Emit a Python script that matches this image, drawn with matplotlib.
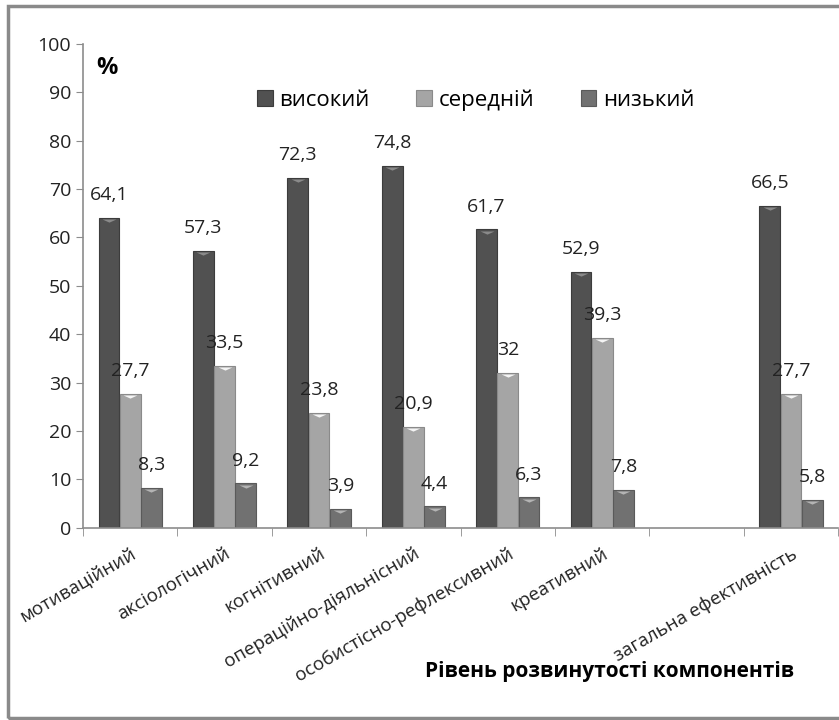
import numpy as np
import matplotlib
matplotlib.use("Agg")
import matplotlib.pyplot as plt
from matplotlib.patches import Rectangle

plt.rcParams["font.family"] = ["Open Sans", "DejaVu Sans"]

CATEGORIES = ["мотиваційний", "аксіологічний", "когнітивний",
              "операційно-діяльнісний", "особистісно-рефлексивний",
              "креативний", "", "загальна ефективність"]
HIGH = [64.1, 57.3, 72.3, 74.8, 61.7, 52.9, np.nan, 66.5]
MID = [27.7, 33.5, 23.8, 20.9, 32, 39.3, np.nan, 27.7]
LOW = [8.3, 9.2, 3.9, 4.4, 6.3, 7.8, np.nan, 5.8]
SERIES = ["високий", "середній", "низький"]

COLORS = ["#515151", "#a5a5a5", "#717171"]
EDGES = ["#3c3c3c", "#8a8a8a", "#5a5a5a"]
TIPS = ["#8a8a8a", "#f4f4f4", "#b4b4b4"]
TIP = [(-1, 0), (1, 0), (0, -0.45)]


def fmt(v):
    s = f"{v:.1f}".replace(".", ",")
    return s[:-2] if s.endswith(",0") else s


fig = plt.figure(figsize=(8.39, 7.2), dpi=100)
ax = fig.add_axes([0.099, 0.267, 0.90, 0.672])

x = np.arange(len(CATEGORIES))
width = 0.225
for i, (vals, name) in enumerate(zip([HIGH, MID, LOW], SERIES)):
    offset = (i - 1) * width
    vals = np.array(vals, dtype=float)
    ax.bar(x + offset, vals, width * 0.98, color=COLORS[i], edgecolor=EDGES[i],
           linewidth=0.8, label=name)
    ok = ~np.isnan(vals)
    ax.plot(x[ok] + offset, vals[ok] - 0.3, marker=TIP, linestyle="none",
            color=TIPS[i], markersize=10, markeredgewidth=0, zorder=3)
    for xi, v in zip(x[ok], vals[ok]):
        ax.text(xi + offset, v + 2.8, fmt(v), ha="center", va="bottom",
                fontsize=14, color="#222222")

ax.set_xlim(-0.5, len(CATEGORIES) - 0.5)
ax.set_ylim(0, 100)
ax.set_yticks(range(0, 101, 10))
ax.tick_params(axis="y", labelsize=14, colors="#222222", length=5,
               color="#8c8c8c")
ax.set_xticks(x)
ax.set_xticklabels(CATEGORIES, rotation=30, ha="right", rotation_mode="anchor",
                   fontsize=13.5, color="#222222")
ax.tick_params(axis="x", length=0, pad=12)
ax.set_xticks(np.arange(-0.5, len(CATEGORIES), 1), minor=True)
ax.tick_params(axis="x", which="minor", length=6, color="#8c8c8c")

for side in ["top", "right"]:
    ax.spines[side].set_visible(False)
for side in ["left", "bottom"]:
    ax.spines[side].set_color("#8c8c8c")
    ax.spines[side].set_linewidth(1.2)

ax.text(0.018, 0.975, "%", transform=ax.transAxes, fontsize=17,
        fontweight="bold", ha="left", va="top")

ax.legend(loc="center", bbox_to_anchor=(0.52, 0.884), ncol=3,
          frameon=False, fontsize=16, handlelength=0.7, handleheight=0.7,
          handletextpad=0.3, columnspacing=2.1)

fig.text(0.726, 0.067, "Рівень розвинутості компонентів", fontsize=15,
         fontweight="bold", ha="center", va="center")

fig.patches.append(Rectangle((0.009, 0.003), 0.995, 0.988,
                             transform=fig.transFigure, fill=False,
                             edgecolor="#8a8a8a", linewidth=2.5))

fig.savefig("out.png", dpi=100)
